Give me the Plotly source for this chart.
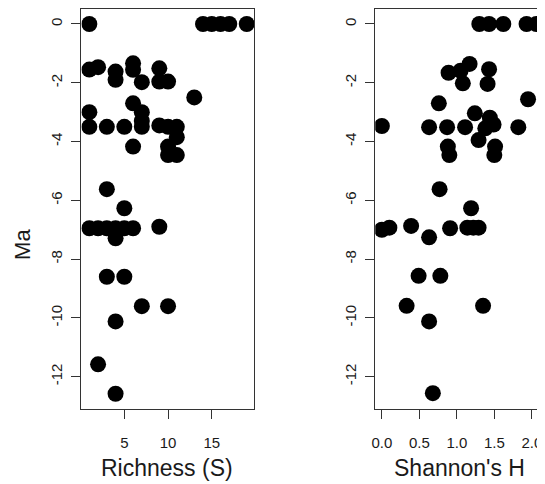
import plotly.graph_objects as go

# Richness panel data
rich_S = [1, 14, 15, 16, 17, 19,
          1, 2, 4, 4, 6, 6, 7, 9, 9, 10,
          13,
          6, 1, 1, 3, 5, 7, 7, 7, 9, 10, 11, 11, 10, 10, 11, 6,
          3, 5, 1, 2, 3, 4, 5, 6, 4, 9,
          3, 5, 7, 10, 4, 2, 4]
rich_Ma = [0, 0, 0, 0, 0, 0,
           -1.55, -1.47, -1.62, -1.9, -1.34, -1.56, -1.98, -1.51, -1.96, -1.96,
           -2.5,
           -2.7, -3.0, -3.5, -3.5, -3.5, -3.0, -3.3, -3.5, -3.45, -3.5, -3.5, -3.85, -4.17, -4.46, -4.46, -4.17,
           -5.62, -6.27, -6.95, -6.95, -6.95, -6.95, -6.95, -6.95, -7.29, -6.9,
           -8.6, -8.6, -9.6, -9.6, -10.12, -11.58, -12.58]

# Shannon panel data
sh_H = [1.30, 1.43, 1.62, 1.93, 2.06,
        0.89, 1.05, 1.17, 1.08, 1.43, 1.41,
        0.76, 1.95,
        0.0, 0.63, 0.87, 1.11, 1.24, 1.44, 1.49, 1.38, 1.82, 1.29, 0.88, 0.90, 1.51, 1.50,
        0.77, 1.19, 0.0, 0.10, 0.39, 0.63, 0.91, 1.14, 1.22, 1.29,
        0.49, 0.78, 0.33, 1.35, 0.63, 0.68]
sh_Ma = [0, 0, 0, 0, 0,
         -1.66, -1.59, -1.36, -2.02, -1.54, -2.04,
         -2.70, -2.56,
         -3.47, -3.51, -3.51, -3.51, -3.04, -3.19, -3.42, -3.55, -3.51, -3.95, -4.17, -4.46, -4.17, -4.46,
         -5.62, -6.27, -7.0, -6.93, -6.87, -7.26, -6.95, -6.93, -6.93, -6.93,
         -8.57, -8.57, -9.59, -9.59, -10.12, -12.56]

y_ticks = [0, -2, -4, -6, -8, -10, -12]
y_ticktext = ["0", "-2", "-4", "-6", "-8", "-10", "-12"]
s_ticks = [5, 10, 15]
s_ticktext = ["5", "10", "15"]
h_ticks = [0, 0.5, 1.0, 1.5, 2.0]
h_ticktext = ["0.0", "0.5", "1.0", "1.5", "2.0"]

# page body has an 8px margin, so the figure is drawn offset by (8, 8)
OFF = 8
W, H = 545 - OFF, 484 - OFF
FONT = "Liberation Sans, Arial, sans-serif"
TXT = "#1a1a1a"


def px(x):
    return (x - OFF) / W


def py(y):
    return (H - (y - OFF)) / H


fig = go.Figure()
fig.add_trace(go.Scatter(x=rich_S, y=rich_Ma, mode="markers",
                         marker=dict(color="black", size=16, line=dict(width=0)),
                         xaxis="x", yaxis="y", showlegend=False, hoverinfo="skip"))
fig.add_trace(go.Scatter(x=sh_H, y=sh_Ma, mode="markers",
                         marker=dict(color="black", size=16, line=dict(width=0)),
                         xaxis="x2", yaxis="y2", showlegend=False, hoverinfo="skip"))

common_axis = dict(showgrid=False, zeroline=False, showline=True, linecolor="#333",
                   linewidth=1.2, ticks="outside", ticklen=9, tickcolor="#333",
                   tickwidth=1, tickfont=dict(family=FONT, size=15, color=TXT))

fig.update_layout(
    width=W, height=H,
    margin=dict(l=0, r=0, t=0, b=0),
    paper_bgcolor="white", plot_bgcolor="white",
    xaxis=dict(domain=[px(78), px(252)], range=[0.1, 19.85], tickvals=s_ticks,
               ticktext=s_ticktext, mirror=True, anchor="y",
               ticklabelstandoff=11, **common_axis),
    yaxis=dict(domain=[py(409), py(9)], range=[-13.1, 0.51], tickvals=y_ticks,
               ticktext=y_ticktext, mirror=True, anchor="x", tickangle=-90,
               ticklabelstandoff=3, **common_axis),
    xaxis2=dict(domain=[px(374), 1.0], range=[-0.088, 2.176], tickvals=h_ticks,
                ticktext=h_ticktext, mirror=True, anchor="y2",
                ticklabelstandoff=11, **common_axis),
    yaxis2=dict(domain=[py(409), py(9)], range=[-13.1, 0.51], tickvals=y_ticks,
                ticktext=y_ticktext, mirror=False, anchor="x2", tickangle=-90,
                ticklabelstandoff=3, **common_axis),
    font=dict(family=FONT, color=TXT),
    annotations=[
        dict(text="Richness (S)", x=px(164), y=py(468), xref="paper", yref="paper",
             showarrow=False, font=dict(family=FONT, size=23, color=TXT),
             xanchor="center", yanchor="middle"),
        dict(text="Shannon's H", x=px(459), y=py(468), xref="paper", yref="paper",
             showarrow=False, font=dict(family=FONT, size=23, color=TXT),
             xanchor="center", yanchor="middle"),
        dict(text="Ma", x=px(18), y=py(244), xref="paper", yref="paper",
             showarrow=False, textangle=-90, font=dict(family=FONT, size=22, color=TXT),
             xanchor="center", yanchor="middle"),
    ],
)

fig.write_html("out.html")
